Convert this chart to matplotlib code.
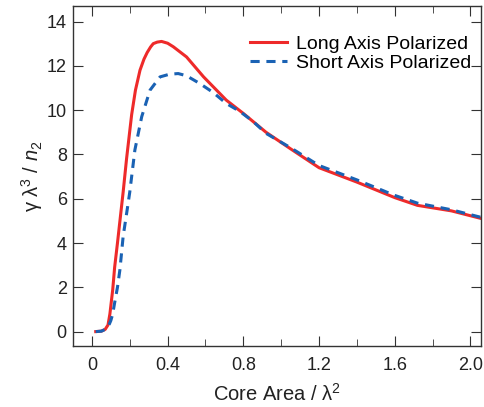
import numpy as np
import matplotlib
matplotlib.use("Agg")
import matplotlib.pyplot as plt
from matplotlib.ticker import MultipleLocator

plt.rcParams['font.family'] = ['Liberation Sans', 'DejaVu Sans']
plt.rcParams['mathtext.fontset'] = 'custom'
plt.rcParams['mathtext.rm'] = 'Liberation Sans'
plt.rcParams['mathtext.it'] = 'Liberation Sans:italic'

# long axis polarized
long_x = [0.02, 0.05, 0.07, 0.085, 0.095, 0.11, 0.12, 0.135, 0.148, 0.165, 0.183, 0.21, 0.23, 0.254,
          0.275, 0.292, 0.31, 0.324, 0.345, 0.368, 0.4, 0.43, 0.5, 0.59, 0.71, 0.8, 0.92,
          1.05, 1.2, 1.4, 1.6, 1.72, 1.9, 2.06]
long_y = [0.0, 0.02, 0.1, 0.3, 0.8, 1.9, 2.9, 4.0, 5.0, 6.3, 7.8, 9.8, 10.9, 11.8,
          12.3, 12.6, 12.85, 13.0, 13.07, 13.1, 13.02, 12.86, 12.4, 11.5, 10.45, 9.85, 9.0,
          8.25, 7.4, 6.75, 6.05, 5.7, 5.45, 5.1]

# short axis polarized
short_x = [0.02, 0.05, 0.07, 0.09, 0.1, 0.11, 0.12, 0.135, 0.148, 0.165, 0.188, 0.2, 0.227, 0.263,
           0.307, 0.36, 0.41, 0.456, 0.5, 0.57, 0.64, 0.71, 0.78, 0.85, 0.92,
           1.05, 1.2, 1.4, 1.6, 1.72, 1.9, 2.06]
short_y = [0.0, 0.02, 0.1, 0.3, 0.5, 0.8, 1.3, 2.0, 2.8, 4.3, 5.6, 6.3, 8.2, 9.7,
           10.9, 11.5, 11.62, 11.65, 11.55, 11.2, 10.8, 10.3, 9.95, 9.5, 8.95,
           8.3, 7.5, 6.85, 6.15, 5.8, 5.5, 5.15]

fig = plt.figure(figsize=(4.84, 4.07), dpi=100)
ax = fig.add_axes([73 / 484, 61 / 407, 408 / 484, 340 / 407])

ax.plot(long_x, long_y, color='#ee2a2a', lw=2.2, label='Long Axis Polarized')
ax.plot(short_x, short_y, color='#1a62b4', lw=2.2, ls=(0, (3, 2.2)), label='Short Axis Polarized')

ax.set_xlim(-0.1, 2.056)
ax.set_ylim(-0.65, 14.7)
ax.xaxis.set_major_locator(MultipleLocator(0.4))
ax.xaxis.set_minor_locator(MultipleLocator(0.2))
ax.yaxis.set_major_locator(MultipleLocator(2))
ax.xaxis.set_major_formatter(plt.FuncFormatter(lambda v, p: '0' if abs(v) < 1e-9 else '%.1f' % v))

ax.tick_params(which='both', direction='in', top=True, right=True, colors='#333333',
               labelcolor='#222222', labelsize=13)
ax.tick_params(axis='x', pad=8)
ax.tick_params(axis='y', pad=4.5)
ax.tick_params(which='major', length=7)
ax.tick_params(which='minor', length=5)
for s in ax.spines.values():
    s.set_color('#333333')
    s.set_linewidth(1.0)

ax.set_xlabel('Core Area / λ$^2$', fontsize=14.5, color='#222222', labelpad=6)
ax.set_ylabel('γ λ$^3$ / $n_2$', fontsize=14.5, color='#222222', labelpad=1)

ax.legend(loc='upper right', bbox_to_anchor=(0.975, 0.915), frameon=False, fontsize=14,
          handlelength=1.9, handletextpad=0.45, labelspacing=0.1,
          borderaxespad=0, borderpad=0)

fig.savefig('out.png', dpi=100)
